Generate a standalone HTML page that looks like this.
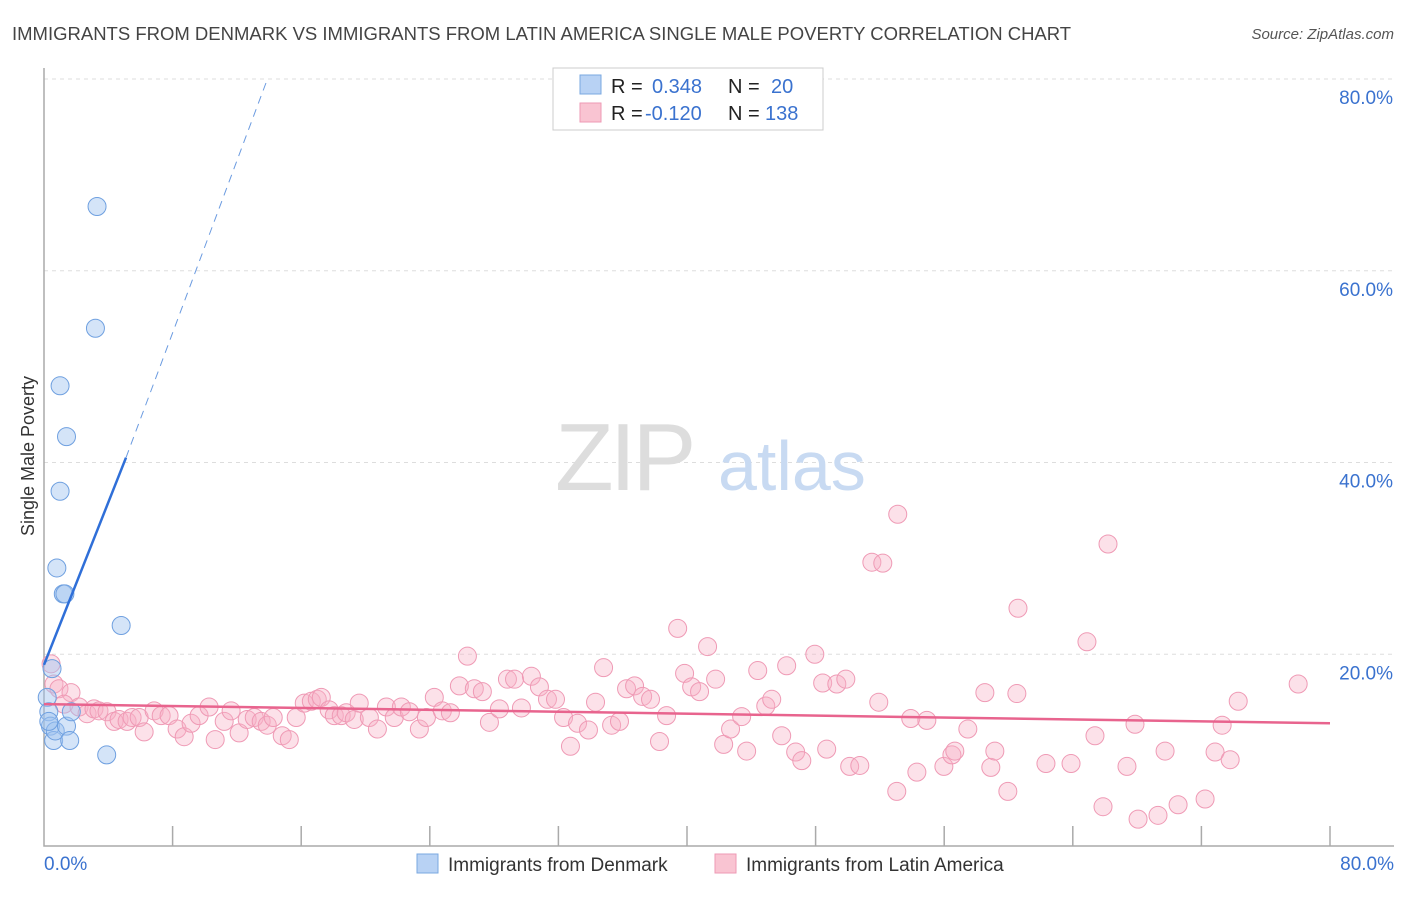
<!DOCTYPE html>
<html><head><meta charset="utf-8"><style>
body{margin:0;background:#fff;font-family:"Liberation Sans",sans-serif;}
svg text{font-family:"Liberation Sans",sans-serif;}
</style></head><body>
<svg id="chart" width="1406" height="892" xmlns="http://www.w3.org/2000/svg">
<text x="12" y="40" font-size="18.5" fill="#444">IMMIGRANTS FROM DENMARK VS IMMIGRANTS FROM LATIN AMERICA SINGLE MALE POVERTY CORRELATION CHART</text>
<text x="1394" y="39" font-size="15" fill="#555" font-style="italic" text-anchor="end">Source: ZipAtlas.com</text>
<g id="grid"></g>
<g>
<text x="555" y="490" font-size="96" fill="#ddd" font-family="Liberation Serif" letter-spacing="-4">ZIP</text>
<text x="718" y="490" font-size="70" fill="#c8daf2">atlas</text>
</g>
<text transform="translate(34,456) rotate(-90)" font-size="18" fill="#333" text-anchor="middle">Single Male Poverty</text>
<g id="pts"></g>
<g id="lines"></g>
<g>
<rect x="553" y="68" width="270" height="62" fill="#fff" stroke="#ccc"/>
<rect x="580" y="75" width="21" height="19" fill="#b8d2f4" stroke="#7aa8e0"/>
<rect x="580" y="103" width="21" height="19" fill="#f9c4d2" stroke="#ee9ab4"/>
<text x="611" y="93" font-size="20" fill="#222">R = </text><text x="652" y="93" font-size="20" fill="#3a72cf">0.348</text>
<text x="728" y="93" font-size="20" fill="#222">N = </text><text x="771" y="93" font-size="20" fill="#3a72cf">20</text>
<text x="611" y="120" font-size="20" fill="#222">R = </text><text x="645" y="120" font-size="20" fill="#3a72cf">-0.120</text>
<text x="728" y="120" font-size="20" fill="#222">N = </text><text x="765" y="120" font-size="20" fill="#3a72cf">138</text>
</g>
<g>
<rect x="417" y="854" width="21" height="19" fill="#b8d2f4" stroke="#7aa8e0"/>
<text x="448" y="871" font-size="19" fill="#333">Immigrants from Denmark</text>
<rect x="715" y="854" width="21" height="19" fill="#f9c4d2" stroke="#ee9ab4"/>
<text x="746" y="871" font-size="19" fill="#333">Immigrants from Latin America</text>
</g>
</svg>
<script>
const yTicks=[20,40,60,80];
const yTickLabels=["20.0%","40.0%","60.0%","80.0%"];
const xTickLabels=["0.0%","80.0%"];
const blueX=[0.2,0.5,0.3,0.4,0.6,0.7,0.3,1.0,1.0,0.8,1.2,1.3,1.4,1.4,1.6,1.7,3.2,3.3,4.8,3.9];
const blueY=[15.5,18.5,14,12.5,11,12,13,48,37,29,26.3,26.3,42.7,12.5,11,14,54,66.7,23,9.5];
const pinkX=[0.44,0.62,0.93,1.68,1.25,2.18,2.68,3.11,3.42,3.92,4.36,4.67,5.17,5.48,5.92,6.23,6.85,7.29,7.78,8.28,8.72,9.15,9.65,10.27,10.65,11.21,11.64,12.14,12.64,13.08,13.51,13.89,14.26,14.82,15.26,15.69,16.19,16.63,17.0,17.25,17.74,18.06,18.49,18.8,19.3,19.61,20.24,20.74,21.3,21.79,22.23,22.73,23.35,23.79,24.28,24.78,25.28,25.84,26.34,26.77,27.27,27.71,28.33,28.83,29.27,29.7,30.32,30.82,31.32,31.82,32.32,32.75,33.19,33.87,34.31,34.81,35.31,35.8,36.24,36.74,37.24,37.73,38.29,38.73,39.42,39.85,40.29,40.78,41.28,41.78,42.28,42.71,43.4,43.71,44.4,44.9,45.27,45.89,46.2,46.76,47.14,47.95,48.44,48.69,49.32,49.88,50.12,50.75,51.5,51.93,52.18,53.05,53.11,53.92,54.3,54.92,55.98,56.48,56.66,57.47,58.9,59.15,58.53,59.96,60.52,60.59,62.33,63.89,64.88,65.38,65.88,66.19,67.37,67.87,68.06,69.3,69.74,70.55,72.23,72.85,73.29,73.79,74.29,78.02];
const pinkY=[19.0,16.9,16.4,16.0,14.8,14.5,13.8,14.3,14.1,14.0,13.0,13.2,13.0,13.4,13.4,11.9,14.1,13.6,13.6,12.2,11.4,12.8,13.6,14.5,11.1,13.0,14.1,11.8,13.2,13.4,13.0,12.6,13.4,11.5,11.1,13.4,14.9,15.1,15.3,15.5,14.2,13.6,13.6,13.9,13.2,14.9,13.4,12.2,14.5,13.4,14.5,14.0,12.2,13.4,15.5,14.1,13.9,16.7,19.8,16.4,16.1,12.9,14.3,17.4,17.4,14.4,17.7,16.6,15.3,15.3,13.4,10.4,12.8,12.1,15.0,18.6,12.6,13.0,16.4,16.7,15.6,15.3,10.9,13.6,22.7,18.0,16.6,16.1,20.8,17.4,10.6,12.2,13.5,9.9,18.3,14.6,15.3,11.5,18.8,9.8,8.9,20.0,17.0,10.1,16.9,17.4,8.3,8.4,29.6,15.0,29.5,5.7,34.6,13.3,7.7,13.1,8.3,9.5,9.9,12.2,8.2,9.9,16.0,5.7,15.9,24.8,8.6,8.6,21.3,11.5,4.1,31.5,8.3,12.7,2.8,3.2,9.9,4.3,4.9,9.8,12.6,9.0,15.1,16.9];
const blueLine=[0,18.9,5.1,40.5,13.9,80];
const pinkLine=[0,14.8,80,12.8];
const NS='http://www.w3.org/2000/svg';
const X0=44,X1=1330,Y0=846,YT=79;
const sx=v=>X0+v*(X1-X0)/80, sy=v=>Y0-v*(Y0-YT)/80;
function mk(t,a,p){const e=document.createElementNS(NS,t);for(const k in a)e.setAttribute(k,a[k]);p.appendChild(e);return e;}
const grid=document.getElementById('grid');
yTicks.forEach((t,i)=>{
 const l=mk('line',{x1:X0,x2:1394,y1:sy(t),y2:sy(t),stroke:'#ddd','stroke-dasharray':'4,4'},grid);
 
 
 const tx=mk('text',{x:1393,y:sy(t)+25,'font-size':19,fill:'#3a72cf','text-anchor':'end'},grid);
 tx.textContent=yTickLabels[i];
 
 
});
const ax=mk('path',{d:`M${X0},68V${Y0}H1394`,stroke:'#aaa',fill:'none','stroke-width':1.5},grid);


for(let i=1;i<=10;i++){
 const t=mk('line',{x1:sx(i*8),x2:sx(i*8),y1:Y0-20,y2:Y0,stroke:'#aaa','stroke-width':1.5},grid);
 
 
}
[[0,'start',44],[80,'end',1394]].forEach((d,i)=>{
 const tx=mk('text',{x:d[2],y:870,'font-size':19,fill:'#3a72cf','text-anchor':d[1]},grid);
 tx.textContent=xTickLabels[i];
 
 
});
const pts=document.getElementById('pts');
pinkX.forEach((x,i)=>{
 const c=mk('circle',{cx:sx(x),cy:sy(pinkY[i]),r:9,fill:'rgba(248,176,198,0.38)',stroke:'#ef9ab5','stroke-width':1},pts);
 
 
});
blueX.forEach((x,i)=>{
 const c=mk('circle',{cx:sx(x),cy:sy(blueY[i]),r:9,fill:'rgba(160,196,240,0.45)',stroke:'#6fa0e0','stroke-width':1},pts);
 
 
});
const ln=document.getElementById('lines');
let e=mk('line',{x1:sx(blueLine[0]),y1:sy(blueLine[1]),x2:sx(blueLine[2]),y2:sy(blueLine[3]),stroke:'#2f6fd8','stroke-width':2.5},ln);


e=mk('line',{x1:sx(blueLine[2]),y1:sy(blueLine[3]),x2:sx(blueLine[4]),y2:sy(blueLine[5]),stroke:'#6b9be0','stroke-width':1,'stroke-dasharray':'8,6'},ln);


e=mk('line',{x1:sx(pinkLine[0]),y1:sy(pinkLine[1]),x2:sx(pinkLine[2]),y2:sy(pinkLine[3]),stroke:'#e8648e','stroke-width':2.5},ln);


</script>
</body></html>
